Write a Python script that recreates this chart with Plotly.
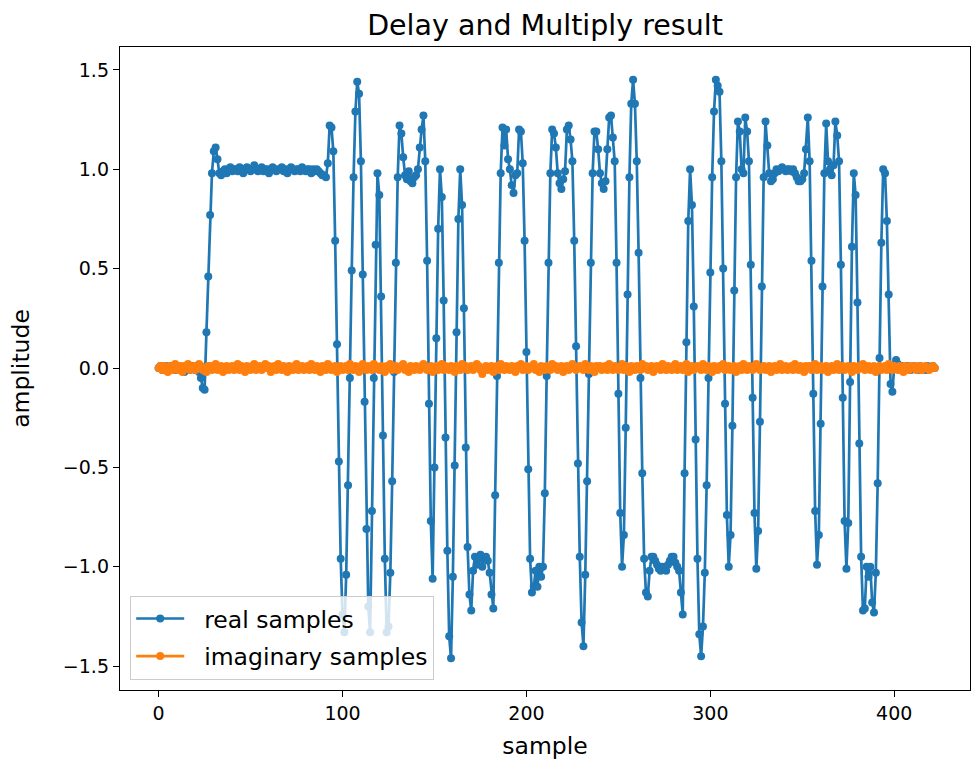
import plotly.graph_objects as go

# ---- data ----
real_samples = [
    0.00, 0.01, -0.01, 0.00, 0.01, -0.01, 0.00, 0.01, 0.00, -0.01,      # 0
    0.01, 0.00, -0.01, 0.00, -0.02, 0.01, 0.00, -0.01, 0.01, 0.00,      # 10
    -0.01, 0.01, -0.02, -0.05, -0.10, -0.11, 0.18, 0.46, 0.77, 0.98,    # 20
    1.09, 1.11, 1.05, 0.98, 0.97, 0.99, 1.00, 0.98, 1.00, 1.01,         # 30
    0.99, 1.00, 1.00, 0.99, 1.01, 1.00, 0.98, 1.00, 1.01, 1.00,         # 40
    0.99, 1.00, 1.02, 1.00, 0.99, 1.00, 1.01, 0.99, 1.00, 1.00,         # 50
    0.98, 1.00, 1.01, 1.00, 0.99, 1.00, 1.00, 1.01, 0.99, 1.00,         # 60
    0.98, 1.00, 1.01, 1.00, 0.99, 1.00, 1.00, 0.99, 1.01, 1.00,         # 70
    0.99, 1.00, 1.00, 0.98, 1.00, 0.99, 1.00, 0.99, 0.98, 0.97,         # 80
    0.97, 0.96, 1.03, 1.22, 1.21, 1.09, 0.64, 0.12, -0.47, -0.96,       # 90
    -1.24, -1.33, -1.04, -0.59, -0.05, 0.49, 0.96, 1.29, 1.44, 1.38,    # 100
    1.04, 0.47, -0.17, -0.81, -1.20, -1.33, -0.72, -0.05, 0.62, 0.98,   # 110
    0.87, 0.36, -0.34, -0.96, -1.33, -1.30, -1.03, -0.57, -0.02, 0.53,  # 120
    0.96, 1.22, 1.18, 1.06, 0.97, 0.95, 0.99, 0.94, 0.93, 0.96,         # 130
    0.97, 1.00, 1.11, 1.20, 1.27, 1.04, 0.54, -0.18, -0.77, -1.06,      # 140
    -0.50, 0.15, 0.70, 1.00, 0.86, 0.34, -0.35, -0.92, -1.35, -1.46,    # 150
    -1.05, -0.49, 0.18, 0.75, 1.00, 0.82, 0.30, -0.40, -0.90, -1.14,    # 160
    -1.22, -1.02, -0.95, -0.99, -0.96, -0.94, -1.00, -0.96, -0.95, -0.97,  # 170
    -1.03, -1.14, -1.21, -0.64, -0.04, 0.53, 0.98, 1.21, 1.12, 1.20,    # 180
    1.05, 1.00, 0.92, 0.88, 0.97, 0.98, 1.20, 1.19, 1.03, 0.64,         # 190
    0.08, -0.51, -0.96, -1.13, -1.10, -1.02, -1.10, -1.00, -1.05, -1.00,  # 200
    -0.63, -0.04, 0.53, 0.98, 1.20, 1.18, 1.11, 0.98, 0.93, 0.90,       # 210
    0.95, 0.99, 1.20, 1.22, 1.15, 1.04, 0.64, 0.11, -0.48, -0.95,       # 220
    -1.28, -1.40, -1.04, -0.57, -0.03, 0.53, 0.98, 1.19, 1.19, 1.10,    # 230
    0.98, 0.93, 0.90, 0.94, 1.10, 1.26, 1.27, 1.16, 1.04, 0.53,         # 240
    -0.13, -0.73, -1.00, -0.84, -0.30, 0.37, 0.96, 1.33, 1.45, 1.33,    # 250
    1.04, 0.58, -0.05, -0.53, -0.96, -1.13, -1.15, -1.02, -0.95, -0.95,  # 260
    -0.97, -0.99, -1.01, -1.02, -1.00, -1.01, -1.02, -0.99, -0.97, -0.95,  # 270
    -0.95, -0.98, -1.00, -1.02, -1.13, -1.24, -0.53, 0.13, 0.74, 1.00,  # 280
    0.82, 0.31, -0.36, -0.96, -1.34, -1.45, -1.30, -1.03, -0.59, -0.05,  # 290
    0.48, 0.96, 1.29, 1.45, 1.42, 1.39, 1.04, 0.50, -0.18, -0.74,       # 300
    -1.00, -0.84, -0.29, 0.39, 0.96, 1.24, 1.19, 1.00, 0.98, 1.26,      # 310
    1.19, 1.04, 0.52, -0.15, -0.73, -1.01, -0.82, -0.27, 0.41, 0.96,    # 320
    1.24, 1.12, 0.98, 0.94, 0.95, 0.98, 1.00, 0.99, 1.00, 1.01,         # 330
    1.00, 0.99, 1.00, 1.00, 0.99, 1.00, 0.98, 0.96, 0.94, 0.94,         # 340
    0.95, 0.98, 1.10, 1.26, 1.04, 0.54, -0.13, -0.72, -0.99, -0.84,     # 350
    -0.28, 0.41, 0.98, 1.23, 1.04, 1.00, 0.97, 1.02, 1.24, 1.17,        # 360
    1.04, 0.52, -0.15, -0.77, -1.01, -0.78, -0.07, 0.61, 0.98, 0.87,    # 370
    0.33, -0.38, -0.95, -1.22, -1.21, -1.00, -1.05, -1.00, -1.18, -1.23,  # 380
    -1.03, -0.58, 0.05, 0.63, 1.00, 0.98, 0.74, 0.37, -0.08, -0.12,     # 390
    0.01, 0.04, 0.02, 0.00, 0.01, -0.01, 0.00, 0.01, 0.00, -0.01,       # 400
    0.00, 0.01, 0.00, -0.01, 0.01, 0.00, 0.00, -0.01, 0.01, 0.00,       # 410
    0.00, 0.01, 0.00,                                                   # 420
]

imag_samples = [
    0.00, 0.01, -0.01, 0.01, 0.00, -0.02, 0.01, 0.00, -0.01, 0.02,
    0.00, -0.01, 0.01, -0.02, 0.01, 0.00, 0.02, -0.01, 0.00, 0.01,
    -0.01, 0.00, 0.02, 0.01, -0.01, 0.00, -0.02, 0.01, 0.01, -0.01,
    0.00, 0.02, -0.01, 0.00, 0.01, -0.02, 0.00, 0.01, -0.01, 0.00,
    0.01, -0.01, 0.00, 0.02, -0.01, 0.01, 0.00, -0.02, 0.01, 0.00,
    -0.01, 0.01, 0.02, -0.01, 0.00, 0.01, -0.01, 0.00, 0.02, 0.00,
    0.01, -0.02, 0.00, 0.01, -0.01, 0.02, 0.00, -0.01, 0.01, 0.00,
    -0.02, 0.01, 0.00, -0.01, 0.01, 0.02, -0.01, 0.00, 0.01, -0.01,
    0.00, 0.01, -0.01, 0.02, 0.00, -0.01, 0.01, 0.00, -0.02, 0.01,
    0.00, -0.01, 0.02, 0.01, -0.01, 0.00, 0.01, -0.02, 0.00, 0.01,
    -0.01, 0.00, 0.01, -0.01, 0.02, 0.00, -0.01, 0.01, 0.00, -0.02,
    0.01, 0.02, 0.00, -0.01, 0.01, 0.00, -0.01, 0.02, 0.01, 0.00,
    -0.01, 0.01, 0.00, -0.02, 0.01, 0.00, 0.02, -0.01, 0.00, 0.01,
    -0.01, 0.00, 0.01, 0.02, -0.01, 0.00, -0.02, 0.01, 0.00, -0.01,
    0.01, 0.00, -0.01, 0.01, 0.02, 0.00, -0.01, 0.00, 0.01, -0.02,
    0.00, 0.01, -0.01, 0.00, 0.02, -0.01, 0.01, 0.00, -0.01, 0.01,
    0.00, -0.02, 0.01, 0.00, -0.01, 0.02, 0.00, 0.01, -0.01, 0.00,
    0.01, -0.01, 0.00, 0.02, 0.01, -0.01, -0.03, 0.00, 0.01, -0.01,
    0.00, 0.01, -0.02, 0.00, 0.01, -0.01, 0.02, 0.00, -0.01, 0.01,
    0.00, -0.01, 0.01, 0.00, -0.02, 0.01, 0.00, 0.02, -0.01, 0.00,
    0.01, -0.01, 0.00, 0.01, 0.02, -0.01, 0.00, -0.02, 0.01, 0.00,
    -0.01, 0.01, 0.00, -0.01, 0.02, 0.00, 0.01, -0.01, 0.00, 0.01,
    -0.02, 0.00, 0.01, -0.01, 0.00, 0.02, 0.01, -0.01, 0.00, 0.01,
    0.00, -0.01, 0.02, 0.00, -0.01, 0.01, 0.00, -0.02, 0.01, 0.00,
    0.01, -0.01, 0.00, 0.01, -0.01, 0.02, 0.00, -0.01, 0.01, 0.00,
    -0.01, 0.00, 0.02, -0.01, 0.01, 0.00, -0.02, 0.01, 0.00, -0.01,
    0.01, 0.00, -0.01, 0.02, 0.00, 0.01, -0.01, 0.00, 0.01, -0.02,
    0.00, 0.01, 0.00, -0.01, 0.02, 0.00, -0.01, 0.01, 0.00, -0.01,
    0.01, 0.02, -0.01, 0.00, 0.01, -0.01, 0.00, 0.02, -0.02, 0.00,
    0.01, -0.01, 0.00, 0.01, 0.00, -0.01, 0.02, 0.00, -0.01, 0.01,
    0.00, -0.02, 0.01, 0.00, -0.01, 0.01, 0.00, 0.02, -0.01, 0.00,
    0.01, -0.01, 0.00, 0.01, -0.02, 0.00, 0.01, -0.01, 0.02, 0.00,
    -0.01, 0.01, 0.00, -0.01, 0.01, 0.02, 0.00, -0.01, 0.00, 0.01,
    -0.01, 0.00, 0.01, -0.02, 0.00, 0.01, -0.01, 0.00, 0.02, -0.01,
    0.00, 0.01, -0.01, 0.00, 0.01, -0.01, 0.02, 0.00, -0.01, 0.01,
    0.00, -0.02, 0.01, 0.00, 0.01, -0.01, 0.00, 0.02, -0.01, 0.00,
    0.01, -0.01, 0.00, 0.01, -0.02, 0.00, 0.01, -0.01, 0.00, 0.02,
    -0.01, 0.00, 0.01, -0.01, 0.00, 0.01, 0.00, -0.02, 0.01, 0.00,
    -0.01, 0.01, 0.00, 0.02, -0.01, 0.00, 0.01, -0.01, 0.00, 0.01,
    -0.02, 0.00, 0.01, -0.01, 0.00, 0.01, -0.01, 0.02, 0.00, -0.01,
    0.01, 0.00, -0.01, 0.01, 0.00, -0.02, 0.01, 0.00, -0.01, 0.01,
    0.00, 0.01, -0.01, 0.00, 0.01, -0.01, 0.00, 0.01, 0.00, -0.01,
    0.00, 0.01, 0.00,
]

n = min(len(real_samples), len(imag_samples))
real_samples = real_samples[:n]
imag_samples = imag_samples[:n]
sample_index = list(range(n))

x_ticks = [0, 100, 200, 300, 400]
y_ticks = [-1.5, -1.0, -0.5, 0.0, 0.5, 1.0, 1.5]
y_tick_text = ["\u22121.5", "\u22121.0", "\u22120.5", "0.0", "0.5", "1.0", "1.5"]

BLUE = "#1f77b4"
ORANGE = "#ff7f0e"
FONT = "DejaVu Sans"
PAD = "\u00a0\u00a0"  # visual gap between legend handle and label

fig = go.Figure()
fig.add_trace(go.Scatter(
    x=sample_index, y=real_samples, mode="lines+markers", name=PAD + "real samples",
    line=dict(color=BLUE, width=2.7), marker=dict(color=BLUE, size=8),
    legendgroup="a",
))
fig.add_trace(go.Scatter(
    x=sample_index, y=imag_samples, mode="lines+markers", name=PAD + "imaginary samples",
    line=dict(color=ORANGE, width=2.7), marker=dict(color=ORANGE, size=8),
    legendgroup="b",
))

axis_common = dict(
    showline=True, linecolor="black", linewidth=1.4, mirror=True,
    ticks="outside", ticklen=6, tickwidth=1.3, tickcolor="black",
    showgrid=False, zeroline=False,
    tickfont=dict(family=FONT, size=19, color="black"),
)

fig.update_layout(
    width=972, height=765,
    margin=dict(l=120, r=2, t=47, b=75),
    paper_bgcolor="white", plot_bgcolor="white",
    font=dict(family=FONT, color="black"),
    title=dict(text="Delay and Multiply result", x=0.5607, xanchor="center",
               y=0.967, yanchor="middle", yref="container",
               font=dict(family=FONT, size=28.5, color="black")),
    xaxis=dict(range=[-21, 441.2], tickvals=x_ticks,
               title=dict(text="sample", font=dict(family=FONT, size=23.5), standoff=14),
               **axis_common),
    yaxis=dict(range=[-1.62, 1.615], tickvals=y_ticks, ticktext=y_tick_text,
               title=dict(text="amplitude", font=dict(family=FONT, size=23.5), standoff=26),
               **axis_common),
    legend=dict(x=0.012, y=0.016, xanchor="left", yanchor="bottom",
                bgcolor="rgba(255,255,255,0.8)", bordercolor="#cccccc", borderwidth=1,
                font=dict(family=FONT, size=23.5, color="black"),
                tracegroupgap=4, itemwidth=48),
    showlegend=True,
)

fig.write_html(
    "out.html",
    config={"displayModeBar": False},
    post_script="document.body.style.margin='0';document.body.style.overflow='hidden';",
)
